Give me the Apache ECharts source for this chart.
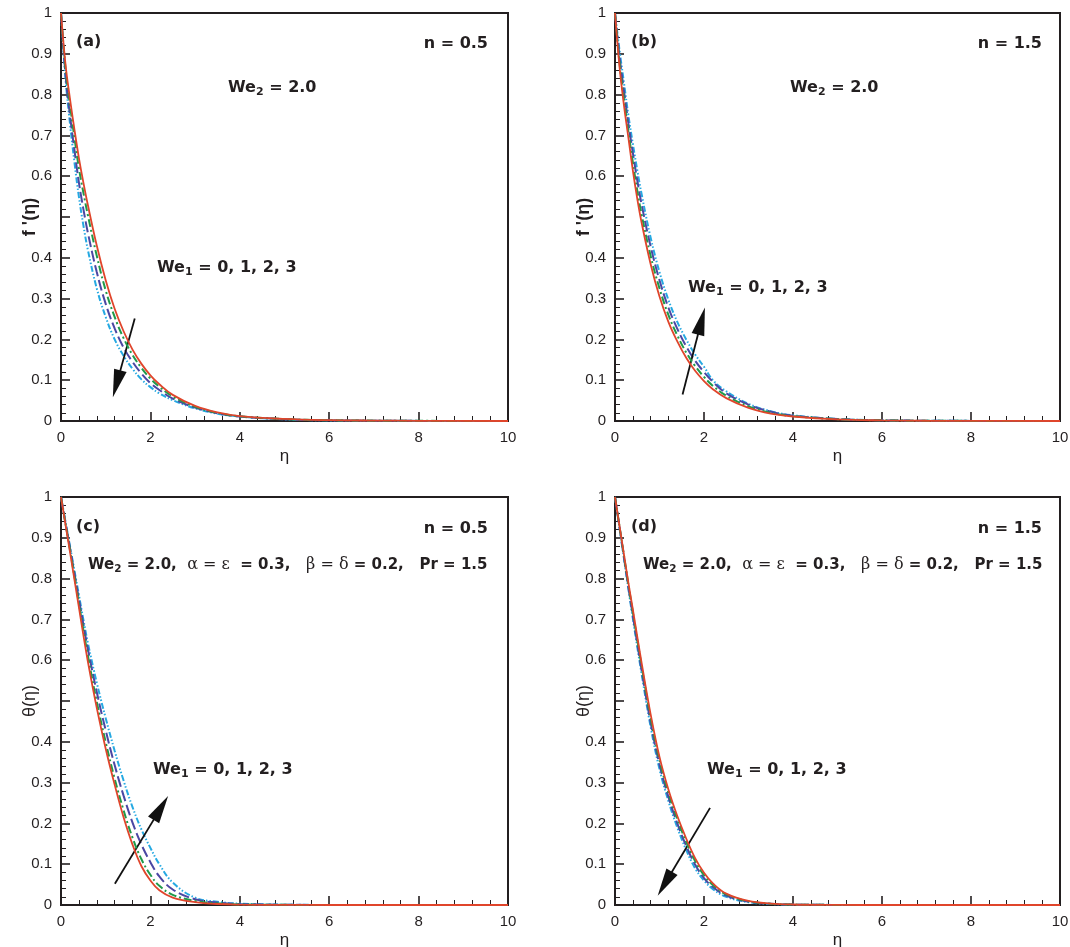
<!DOCTYPE html>
<html>
<head>
<meta charset="utf-8">
<title>f'(eta) and theta(eta) for We1</title>
<script src="https://cdn.jsdelivr.net/npm/echarts@6/dist/echarts.min.js"></script>
<style>
  html, body { margin: 0; padding: 0; background: #fff; }
  #chart { width: 1070px; height: 947px; }
</style>
</head>
<body>
<div id="chart"></div>
<script>
// eta grid shared by every curve
const eta = [0, 0.1, 0.2, 0.3, 0.4, 0.5, 0.6, 0.8, 1.0, 1.2, 1.4, 1.6, 1.8, 2.0, 2.2, 2.5, 3.0, 3.5, 4.0, 5.0, 6.0, 7.0, 8.0, 10.0];

// (a) f'(eta), n = 0.5
const aWe0 = [1.0, 0.875, 0.79, 0.715, 0.645, 0.585, 0.53, 0.43, 0.345, 0.275, 0.22, 0.175, 0.14, 0.112, 0.09, 0.064, 0.037, 0.021, 0.012, 0.005, 0.002, 0.001, 0.0005, 0];
const aWe1 = [1.0, 0.865, 0.775, 0.695, 0.62, 0.56, 0.505, 0.405, 0.32, 0.255, 0.203, 0.162, 0.13, 0.104, 0.084, 0.06, 0.035, 0.02, 0.0115, 0.0047, 0.0018, 0.0009, 0.0004, 0];
const aWe2 = [1.0, 0.85, 0.75, 0.665, 0.585, 0.52, 0.462, 0.365, 0.287, 0.227, 0.18, 0.145, 0.116, 0.093, 0.076, 0.055, 0.033, 0.019, 0.011, 0.0044, 0.0016, 0.0008, 0.0003, 0];
const aWe3 = [1.0, 0.84, 0.73, 0.635, 0.55, 0.48, 0.42, 0.325, 0.255, 0.2, 0.16, 0.128, 0.102, 0.083, 0.068, 0.051, 0.031, 0.018, 0.011, 0.004, 0.0015, 0.0007, 0.0003, 0];

// (b) f'(eta), n = 1.5
const bWe0 = [1.0, 0.87, 0.775, 0.695, 0.615, 0.545, 0.485, 0.385, 0.305, 0.243, 0.195, 0.155, 0.123, 0.098, 0.078, 0.056, 0.032, 0.018, 0.011, 0.004, 0.0015, 0.0006, 0.0003, 0];
const bWe1 = [1.0, 0.88, 0.79, 0.71, 0.635, 0.565, 0.505, 0.405, 0.325, 0.26, 0.21, 0.168, 0.135, 0.108, 0.086, 0.062, 0.036, 0.02, 0.012, 0.0045, 0.0016, 0.0006, 0.0003, 0];
const bWe2 = [1.0, 0.895, 0.81, 0.73, 0.658, 0.59, 0.53, 0.428, 0.345, 0.278, 0.226, 0.183, 0.148, 0.12, 0.096, 0.068, 0.04, 0.023, 0.013, 0.0048, 0.0017, 0.0007, 0.0003, 0];
const bWe3 = [1.0, 0.91, 0.83, 0.75, 0.68, 0.615, 0.555, 0.45, 0.365, 0.297, 0.243, 0.2, 0.163, 0.133, 0.1, 0.073, 0.042, 0.024, 0.014, 0.005, 0.0018, 0.0007, 0.0003, 0];

// (c) theta(eta), n = 0.5
const cWe0 = [1.0, 0.933, 0.866, 0.798, 0.73, 0.662, 0.597, 0.483, 0.383, 0.295, 0.215, 0.148, 0.095, 0.06, 0.036, 0.018, 0.007, 0.0025, 0.001, 0.0003, 0, 0, 0, 0];
const cWe1 = [1.0, 0.935, 0.871, 0.806, 0.74, 0.675, 0.612, 0.498, 0.399, 0.31, 0.232, 0.165, 0.112, 0.074, 0.047, 0.025, 0.01, 0.004, 0.0015, 0.0004, 0.0001, 0, 0, 0];
const cWe2 = [1.0, 0.937, 0.876, 0.813, 0.75, 0.688, 0.628, 0.522, 0.428, 0.343, 0.268, 0.202, 0.148, 0.105, 0.07, 0.038, 0.014, 0.006, 0.0025, 0.0006, 0.0001, 0, 0, 0];
const cWe3 = [1.0, 0.94, 0.88, 0.82, 0.76, 0.70, 0.643, 0.545, 0.458, 0.378, 0.305, 0.24, 0.185, 0.14, 0.1, 0.055, 0.018, 0.008, 0.0035, 0.0008, 0.0002, 0, 0, 0];

// (d) theta(eta), n = 1.5
const dWe0 = [1.0, 0.93, 0.86, 0.79, 0.725, 0.658, 0.592, 0.468, 0.363, 0.283, 0.218, 0.163, 0.115, 0.079, 0.053, 0.028, 0.01, 0.0035, 0.0012, 0.0002, 0, 0, 0, 0];
const dWe1 = [1.0, 0.929, 0.857, 0.786, 0.718, 0.65, 0.584, 0.459, 0.355, 0.275, 0.21, 0.155, 0.108, 0.073, 0.049, 0.026, 0.009, 0.0032, 0.0011, 0.0002, 0, 0, 0, 0];
const dWe2 = [1.0, 0.927, 0.853, 0.78, 0.71, 0.641, 0.574, 0.447, 0.344, 0.265, 0.2, 0.145, 0.099, 0.066, 0.044, 0.023, 0.008, 0.0028, 0.001, 0.0002, 0, 0, 0, 0];
const dWe3 = [1.0, 0.925, 0.85, 0.775, 0.703, 0.633, 0.565, 0.437, 0.333, 0.255, 0.19, 0.135, 0.09, 0.06, 0.039, 0.02, 0.007, 0.0025, 0.001, 0.0002, 0, 0, 0, 0];

// arrow annotations (tail, head) in data units
const arrowA = [[1.65, 0.251], [1.244, 0.091]];
const arrowB = [[1.518, 0.065], [1.942, 0.245]];
const arrowC = [[1.205, 0.052], [2.234, 0.238]];
const arrowD = [[2.136, 0.238], [1.12, 0.052]];

const INK = '#231f20';
const LINE_STYLES = [
  { color: '#e0452b', width: 1.8, type: 'solid' },               // We1 = 0
  { color: '#1f9a4b', width: 2, type: [8, 3, 2, 3] },            // We1 = 1
  { color: '#4b47a3', width: 2, type: [11, 4] },                 // We1 = 2
  { color: '#25a9e2', width: 2, type: [6, 2, 1.5, 2, 1.5, 2] }   // We1 = 3
];

const GRIDS = [
  { left: 61, top: 13, width: 447, height: 408 },
  { left: 615, top: 13, width: 445, height: 408 },
  { left: 61, top: 497, width: 447, height: 408 },
  { left: 615, top: 497, width: 445, height: 408 }
];

const PANELS = [
  { curves: [aWe0, aWe1, aWe2, aWe3], arrow: arrowA, yName: "f '(\u03b7)", yBold: true },
  { curves: [bWe0, bWe1, bWe2, bWe3], arrow: arrowB, yName: "f '(\u03b7)", yBold: true },
  { curves: [cWe0, cWe1, cWe2, cWe3], arrow: arrowC, yName: '\u03b8(\u03b7)', yBold: false },
  { curves: [dWe0, dWe1, dWe2, dWe3], arrow: arrowD, yName: '\u03b8(\u03b7)', yBold: false }
];

function axisCommon() {
  return {
    axisLine: { show: true, onZero: false, lineStyle: { color: INK, width: 2 } },
    axisTick: { show: true, inside: true, length: 9, lineStyle: { color: INK, width: 1.6 } },
    minorTick: { show: true, splitNumber: 5, length: 5, lineStyle: { color: INK, width: 1 } },
    splitLine: { show: false },
    axisLabel: { color: INK, fontSize: 15, fontFamily: 'Liberation Sans', margin: 9 }
  };
}

const xAxes = GRIDS.map((g, i) => Object.assign(axisCommon(), {
  type: 'value', gridIndex: i, min: 0, max: 10, interval: 2,
  name: '\u03b7', nameLocation: 'middle', nameGap: 27,
  nameTextStyle: { color: INK, fontSize: 17, fontFamily: 'Liberation Sans' }
}));

// the y title sits where the 0.5 tick label would be, so that label is left out
const yAxes = GRIDS.map((g, i) => {
  const ax = Object.assign(axisCommon(), {
    type: 'value', gridIndex: i, min: 0, max: 1, interval: 0.1,
    name: PANELS[i].yName, nameLocation: 'middle', nameGap: 22, nameRotate: 90,
    nameMoveOverlap: false,
    nameTextStyle: {
      color: INK, fontSize: 18, fontFamily: 'Liberation Sans',
      fontWeight: PANELS[i].yBold ? 'bold' : 'normal'
    }
  });
  ax.axisLabel.formatter = v => (Math.abs(v - 0.5) < 1e-6 ? '' : String(+v.toFixed(1)));
  return ax;
});

const series = [];
PANELS.forEach((p, i) => {
  // draw We1 = 3 first so the solid We1 = 0 line sits on top
  for (let k = 3; k >= 0; k--) {
    const s = {
      type: 'line',
      name: 'We1 = ' + k,
      xAxisIndex: i,
      yAxisIndex: i,
      data: eta.map((x, j) => [x, p.curves[k][j]]),
      showSymbol: false,
      smooth: 0.4,
      lineStyle: LINE_STYLES[k],
      z: 3 + (3 - k)
    };
    if (k === 0) {
      s.markLine = {
        silent: true,
        symbol: ['none', 'triangle'],
        symbolSize: [13, 28],
        label: { show: false },
        lineStyle: { color: '#111', width: 1.8, type: 'solid' },
        data: [[{ coord: p.arrow[0] }, { coord: p.arrow[1] }]]
      };
    }
    series.push(s);
  }
});

// text annotations
const BOLD = { fontFamily: 'DejaVu Sans', fontWeight: 'bold', fontSize: 16, lineHeight: 20, color: INK };
const SUB = { fontFamily: 'DejaVu Sans', fontWeight: 'bold', fontSize: 11, padding: [9, 0, 0, 0], color: INK };
const HB = { fontFamily: 'DejaVu Sans', fontWeight: 'bold', fontSize: 15, lineHeight: 20, color: INK };
const HS = { fontFamily: 'DejaVu Sans', fontWeight: 'bold', fontSize: 10.5, padding: [9, 0, 0, 0], color: INK };
const GREEK = { fontFamily: 'DejaVu Serif', fontWeight: 'normal', fontSize: 16, lineHeight: 20, color: INK };

function label(text, pos) {
  return Object.assign({
    type: 'text',
    silent: true,
    style: { text: text, rich: { b: BOLD, s: SUB, hb: HB, hs: HS, g: GREEK }, fill: INK }
  }, pos);
}

const weTwo = '{b|We}{s|2}{b| = 2.0}';
const weOne = '{b|We}{s|1}{b| = 0, 1, 2, 3}';
const header = '{hb|We}{hs|2}{hb| = 2.0,  }{g|\u03b1 = \u03b5}{hb|  = 0.3,   }{g|\u03b2 = \u03b4}{hb| = 0.2,   Pr = 1.5}';

const graphics = [
  label('{b|(a)}', { left: 76, top: 34 }),
  label('{b|n = 0.5}', { right: 582, top: 36 }),
  label(weTwo, { left: 228, top: 80 }),
  label(weOne, { left: 157, top: 260 }),

  label('{b|(b)}', { left: 631, top: 34 }),
  label('{b|n = 1.5}', { right: 28, top: 36 }),
  label(weTwo, { left: 790, top: 80 }),
  label(weOne, { left: 688, top: 280 }),

  label('{b|(c)}', { left: 76, top: 519 }),
  label('{b|n = 0.5}', { right: 582, top: 521 }),
  label(header, { left: 88, top: 557 }),
  label(weOne, { left: 153, top: 762 }),

  label('{b|(d)}', { left: 631, top: 519 }),
  label('{b|n = 1.5}', { right: 28, top: 521 }),
  label(header, { left: 643, top: 557 }),
  label(weOne, { left: 707, top: 762 })
];

const chart = echarts.init(document.getElementById('chart'), null, { renderer: 'canvas' });
chart.setOption({
  animation: false,
  backgroundColor: '#fff',
  grid: GRIDS.map(g => Object.assign({
    show: true, borderColor: INK, borderWidth: 2,
    containLabel: false, outerBoundsMode: 'none'
  }, g)),
  xAxis: xAxes,
  yAxis: yAxes,
  series: series,
  graphic: graphics
});
</script>
</body>
</html>
